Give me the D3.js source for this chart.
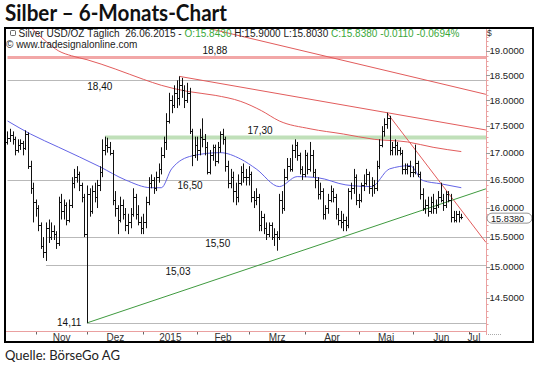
<!DOCTYPE html>
<html>
<head>
<meta charset="utf-8">
<script src="https://cdn.jsdelivr.net/npm/d3@7"></script>
<style>
  body { margin: 0; background: #fff; }
  svg { display: block; }
</style>
</head>
<body>
<svg id="chart" width="540" height="367"></svg>
<script>
// ---- data (silver, daily bars 17.10.2014 - 26.06.2015) ----
var firstDay = "2014-10-17";
var holidays = ["2014-12-25", "2015-01-01", "2015-04-03"];

var opens = [
  17.20,17.28,17.33,17.25,17.05,17.15,17.18,17.08,17.35,16.75,16.35,
  16.10,16.00,15.70,15.35,15.25,15.65,15.50,15.60,15.55,15.40,16.10,15.95,16.05,15.80,16.05,16.45,16.55,16.60,16.40,16.20,
  15.55,16.25,15.95,16.30,16.20,16.40,16.65,17.05,17.15,17.10,17.00,16.15,16.00,15.80,16.05,15.90,15.70,15.75,15.90,16.20,15.90,15.75,
  15.65,15.75,16.10,16.45,16.50,16.35,16.55,16.70,16.95,17.20,17.60,18.00,17.90,18.15,18.05,18.30,18.20,18.00,18.15,17.40,16.95,
  17.15,17.05,17.30,17.25,17.10,16.65,16.95,17.10,16.85,17.10,17.35,17.25,16.75,16.45,16.55,16.30,16.20,16.45,16.65,16.55,
  16.55,16.60,16.20,16.15,16.20,15.70,15.85,15.65,15.55,15.70,15.50,15.55,15.50,16.15,16.00,16.55,16.75,16.70,17.05,17.15,16.95,16.70,
  16.60,16.95,16.70,16.95,16.65,16.50,16.25,16.30,15.90,16.00,16.15,16.30,16.20,15.90,15.80,15.75,15.80,15.70,16.30,16.35,16.55,
  16.15,16.15,16.40,16.45,16.60,16.35,16.40,16.35,16.75,17.15,17.40,17.55,17.65,17.05,17.10,17.15,17.05,17.00,16.70,16.70,16.75,
  16.65,16.65,16.80,16.60,16.25,16.00,16.05,15.95,16.10,16.00,16.05,16.20,16.15,16.05,16.25,16.15,15.85,15.80,15.90,15.843
];
var highs = [
  17.40,17.45,17.40,17.30,17.25,17.25,17.22,17.42,17.38,16.85,16.45,
  16.15,16.05,15.75,15.50,15.75,15.80,15.75,15.70,15.60,16.20,16.25,16.15,16.10,16.15,16.55,16.70,16.75,16.65,16.45,16.25,
  16.40,16.35,16.40,16.45,16.50,16.75,17.25,17.30,17.28,17.20,17.05,16.30,16.05,16.20,16.15,16.00,15.90,16.00,16.35,16.25,16.05,15.85,
  15.90,16.20,16.55,16.60,16.55,16.65,16.80,17.10,17.30,17.75,18.15,18.10,18.30,18.40,18.48,18.45,18.30,18.35,18.25,17.45,17.30,
  17.30,17.45,17.65,17.35,17.20,17.05,17.15,17.15,17.20,17.40,17.45,17.30,16.85,16.70,16.65,16.45,16.60,16.75,16.80,16.70,
  16.75,16.65,16.30,16.35,16.25,15.95,15.90,15.75,15.75,15.75,15.65,15.60,16.25,16.30,16.70,16.90,16.90,17.15,17.25,17.20,17.00,16.75,
  17.05,17.00,17.20,17.05,16.70,16.55,16.45,16.35,16.05,16.25,16.40,16.35,16.25,16.00,15.95,15.90,15.85,16.35,16.45,16.70,16.60,
  16.25,16.45,16.60,16.70,16.65,16.55,16.50,16.85,17.25,17.50,17.65,17.76,17.70,17.20,17.25,17.20,17.10,17.05,16.80,16.80,16.85,
  16.75,17.15,16.85,16.65,16.35,16.15,16.20,16.20,16.25,16.15,16.30,16.45,16.25,16.30,16.30,16.25,15.95,15.95,15.95,15.90
];
var lows = [
  17.15,17.20,17.15,16.95,17.00,17.05,16.95,17.05,16.70,16.25,15.75,
  15.85,15.60,15.30,15.15,15.10,15.40,15.45,15.45,15.30,15.35,15.80,15.80,15.70,15.75,16.00,16.35,16.45,16.30,16.10,15.50,
  14.11,15.85,15.90,16.10,16.00,16.30,16.55,16.95,17.00,16.95,16.05,15.85,15.55,15.75,15.80,15.60,15.55,15.65,15.85,15.80,15.70,15.55,
  15.55,15.65,16.05,16.35,16.25,16.30,16.45,16.60,16.90,17.05,17.55,17.75,17.85,17.85,17.90,18.05,17.85,17.95,17.35,16.75,16.90,
  16.85,16.95,17.10,16.95,16.60,16.60,16.85,16.75,16.80,17.00,17.15,16.65,16.35,16.35,16.10,16.05,16.10,16.40,16.45,16.40,
  16.40,16.10,16.00,16.05,15.60,15.60,15.55,15.45,15.50,15.45,15.35,15.27,15.45,15.90,15.95,16.50,16.65,16.65,16.90,16.85,16.60,16.50,
  16.55,16.60,16.65,16.55,16.35,16.15,16.15,15.80,15.80,15.90,16.10,16.10,15.80,15.70,15.65,15.60,15.60,15.65,16.15,16.25,16.05,
  16.00,16.10,16.30,16.40,16.25,16.20,16.25,16.30,16.70,17.10,17.30,17.45,16.95,16.95,16.95,16.95,16.95,16.60,16.60,16.60,16.55,
  16.55,16.60,16.55,16.15,15.95,15.90,15.85,15.90,15.90,15.90,16.00,16.10,15.95,16.00,16.10,15.75,15.75,15.75,15.75,15.803
];
var closes = [
  17.28,17.33,17.25,17.05,17.15,17.18,17.08,17.35,16.75,16.35,16.10,
  16.00,15.70,15.35,15.25,15.65,15.50,15.60,15.55,15.40,16.10,15.95,16.05,15.80,16.05,16.45,16.55,16.60,16.40,16.20,15.55,
  16.25,15.95,16.30,16.20,16.40,16.65,17.05,17.15,17.10,17.00,16.15,16.00,15.80,16.05,15.90,15.70,15.75,15.90,16.20,15.90,15.75,15.65,
  15.75,16.10,16.45,16.50,16.35,16.55,16.70,16.95,17.20,17.60,18.00,17.90,18.15,18.05,18.30,18.20,18.00,18.15,17.40,16.95,17.15,
  17.05,17.30,17.25,17.10,16.65,16.95,17.10,16.85,17.10,17.35,17.25,16.75,16.45,16.55,16.30,16.20,16.45,16.65,16.55,16.55,
  16.60,16.20,16.15,16.20,15.70,15.85,15.65,15.55,15.70,15.50,15.55,15.50,16.15,16.00,16.55,16.75,16.70,17.05,17.15,16.95,16.70,16.60,
  16.95,16.70,16.95,16.65,16.50,16.25,16.30,15.90,16.00,16.15,16.30,16.20,15.90,15.80,15.75,15.80,15.70,16.30,16.35,16.55,16.15,
  16.15,16.40,16.45,16.60,16.35,16.40,16.35,16.75,17.15,17.40,17.55,17.65,17.05,17.10,17.15,17.05,17.00,16.70,16.70,16.75,16.65,
  16.65,16.80,16.60,16.25,16.00,16.05,15.95,16.10,16.00,16.05,16.20,16.15,16.05,16.25,16.15,15.85,15.80,15.90,15.85,15.838
];

// blue (short) and red (long) moving average at bar indices
var blueIdx  = [0, 9, 20, 36, 46, 56, 60, 64, 72, 83, 91, 97, 106, 113, 121, 132, 142, 149, 157, 162, 169, 177];
var blueVals = [17.60, 17.35, 17.10, 16.74, 16.50, 16.36, 16.36, 16.70, 16.94, 17.00, 16.88, 16.70, 16.38, 16.56, 16.54, 16.41, 16.38, 16.70, 16.76, 16.49, 16.43, 16.36];
var redIdx   = [4, 10, 15, 20, 25, 31, 42, 53, 60, 70, 81, 91, 99, 106, 118, 131, 143, 156, 166, 177];
var redVals  = [19.75, 19.45, 19.20, 19.00, 18.90, 18.82, 18.63, 18.42, 18.30, 18.18, 18.10, 17.98, 17.80, 17.60, 17.45, 17.35, 17.25, 17.20, 17.10, 17.02];

// horizontal levels
var levelVals    = [18.88, 18.40, 17.30, 16.50, 15.50, 15.03, 14.11];
var levelText    = ["18,88", "18,40", "17,30", "16,50", "15,50", "15,03", "14,11"];
var levelFrom    = [0, 0, 38, 0, 15, 15, 31];
var levelLabelAt = [80.9, 36, 98.5, 71.2, 82, 66.5, 28.8];

// trend lines [idx, value] pairs
var trendA = [[75, 19.52], [186.6, 18.12]];
var trendB = [[67, 18.48], [148, 17.76], [186.6, null]];
var trendC = [[148, 17.76], [186.6, 15.41]];
var trendGreen = [[31, 14.11], [186.6, 16.34]];

var yTicks = [19.0, 18.5, 18.0, 17.5, 17.0, 16.5, 16.0, 15.5, 15.0, 14.5];
var monthLabels = ["Nov", "Dez", "2015", "Feb", "Mrz", "Apr", "Mai", "Jun", "Jul"];
var lastClose = 15.838;

// ---- drawing ----
var svg = d3.select("#chart");
var plotL = 6, plotR = 486, plotT = 28, plotB = 331;
var lblFont = "'Liberation Sans', Arial, sans-serif";

var fmt = d3.timeFormat("%Y-%m-%d");
var days = d3.timeDay.range(d3.timeParse("%Y-%m-%d")(firstDay), new Date(2015, 6, 3))
  .filter(function(d) { return d.getDay() % 6 !== 0 && holidays.indexOf(fmt(d)) < 0; });

var x = d3.scaleLinear().domain([11, 180]).range([35.7, 469]);
var y = d3.scaleLog().domain([14.5, 19]).range([298, 51]);

svg.append("defs").append("clipPath").attr("id", "clip")
  .append("rect").attr("x", plotL).attr("y", plotT).attr("width", plotR - plotL).attr("height", plotB - plotT);

var g = svg.append("g").attr("clip-path", "url(#clip)");

// levels
levelVals.forEach(function(v, i) {
  var yy = Math.round(y(v)) + 0.5;
  var col = "#b9b9b9", w = 1;
  if (v === 18.88) { col = "#f2a7a7"; w = 3; }
  if (v === 17.30) { col = "#c0e0b9"; w = 4; }
  g.append("line")
    .attr("x1", Math.max(plotL, x(levelFrom[i]))).attr("x2", plotR)
    .attr("y1", yy).attr("y2", yy)
    .attr("stroke", col).attr("stroke-width", w);
});

// moving averages
var maLine = d3.line().curve(d3.curveMonotoneX)
  .x(function(d) { return x(d[0]); })
  .y(function(d) { return y(d[1]); });

g.append("path").datum(redIdx.map(function(d, i) { return [d, redVals[i]]; }))
  .attr("d", maLine).attr("fill", "none").attr("stroke", "#e25c5c").attr("stroke-width", 1);
g.append("path").datum(blueIdx.map(function(d, i) { return [d, blueVals[i]]; }))
  .attr("d", maLine).attr("fill", "none").attr("stroke", "#6464e6").attr("stroke-width", 1);

// trend lines
function seg(p, q, col) {
  g.append("line")
    .attr("x1", x(p[0])).attr("y1", y(p[1]))
    .attr("x2", x(q[0])).attr("y2", y(q[1]))
    .attr("stroke", col).attr("stroke-width", 1);
}
seg(trendA[0], trendA[1], "#e25c5c");
(function() {
  var x0 = x(trendB[0][0]), y0 = y(trendB[0][1]);
  var x1 = x(trendB[1][0]), y1 = y(trendB[1][1]);
  var x2 = x(trendB[2][0]);
  g.append("line").attr("x1", x0).attr("y1", y0).attr("x2", x2)
    .attr("y2", y0 + (y1 - y0) * (x2 - x0) / (x1 - x0))
    .attr("stroke", "#e25c5c").attr("stroke-width", 1);
})();
seg(trendC[0], trendC[1], "#e25c5c");
seg(trendGreen[0], trendGreen[1], "#3f9a3f");

// OHLC bars
var bars = g.append("g").attr("stroke", "#111").attr("stroke-width", 1);
closes.forEach(function(c, i) {
  var xx = Math.round(x(i)) + 0.5;
  bars.append("line").attr("x1", xx).attr("x2", xx)
    .attr("y1", y(highs[i])).attr("y2", y(lows[i]));
  bars.append("line").attr("x1", xx - 1.5).attr("x2", xx)
    .attr("y1", Math.round(y(opens[i])) + 0.5).attr("y2", Math.round(y(opens[i])) + 0.5);
  bars.append("line").attr("x1", xx).attr("x2", xx + 1.5)
    .attr("y1", Math.round(y(c)) + 0.5).attr("y2", Math.round(y(c)) + 0.5);
});

// level labels
levelVals.forEach(function(v, i) {
  var above = (v === 18.88 || v === 17.30);
  var t = svg.append("text")
    .attr("x", x(levelLabelAt[i]))
    .attr("y", above ? y(v) - 2.5 : y(v) + 9.5)
    .attr("text-anchor", "middle")
    .attr("font-family", lblFont).attr("font-size", 10).attr("fill", "#111")
    .text(levelText[i]);
  if (v === 14.11) t.attr("y", y(v) + 3).attr("text-anchor", "end");
});

// right axis
svg.append("line").attr("x1", plotR + 0.5).attr("x2", plotR + 0.5).attr("y1", plotT).attr("y2", plotB + 4)
  .attr("stroke", "#eaa0a0");
d3.range(14.1, 19.45, 0.1).forEach(function(v) {
  svg.append("line").attr("x1", plotR).attr("x2", plotR + 2.5)
    .attr("y1", Math.round(y(v)) + 0.5).attr("y2", Math.round(y(v)) + 0.5).attr("stroke", "#eaa0a0");
});
yTicks.forEach(function(v) {
  svg.append("line").attr("x1", plotR).attr("x2", plotR + 4)
    .attr("y1", Math.round(y(v)) + 0.5).attr("y2", Math.round(y(v)) + 0.5).attr("stroke", "#999");
  svg.append("text").attr("x", plotR + 3.5).attr("y", y(v) + 3.3)
    .attr("font-family", lblFont).attr("font-size", 9.6).attr("fill", "#222")
    .text(v.toFixed(4));
});
svg.append("rect").attr("x", plotR + 1).attr("y", y(lastClose) - 4.2).attr("width", 45).attr("height", 10)
  .attr("rx", 5).attr("fill", "#fff").attr("stroke", "#777").attr("stroke-width", 0.8);
svg.append("text").attr("x", plotR + 5).attr("y", y(lastClose) + 4.3)
  .attr("font-family", lblFont).attr("font-size", 9.2).attr("fill", "#222")
  .text(lastClose.toFixed(4));
svg.append("text").attr("x", plotR + 1).attr("y", 36)
  .attr("font-family", lblFont).attr("font-size", 8.5).attr("fill", "#333").text("$");

// bottom axis
svg.append("line").attr("x1", plotL).attr("x2", plotR).attr("y1", plotB + 0.5).attr("y2", plotB + 0.5)
  .attr("stroke", "#eaa0a0");
var monthStarts = d3.range(0, 9).map(function(m) {
  var start = new Date(2014, 10 + m, 1);
  for (var i = 0; i < days.length; i++) if (days[i] >= start) return i;
  return days.length;
});
monthStarts.forEach(function(idx, m) {
  var tx = Math.round(x(idx)) + 0.5;
  svg.append("line").attr("x1", tx).attr("x2", tx).attr("y1", plotB + 1).attr("y2", plotB + 3.5)
    .attr("stroke", "#666");
  var next = m < 8 ? x(monthStarts[m + 1]) : tx + 10;
  var cx = Math.min((tx + next) / 2, plotR - 12);
  svg.append("text").attr("x", cx).attr("y", plotB + 10)
    .attr("text-anchor", "middle")
    .attr("font-family", lblFont).attr("font-size", 10).attr("fill", "#333")
    .text(monthLabels[m]);
});
svg.append("line").attr("x1", plotR + 2).attr("x2", plotR + 16).attr("y1", plotB + 3.5).attr("y2", plotB + 3.5)
  .attr("stroke", "#aaa").attr("stroke-dasharray", "1,1");

// header texts
var hdr = svg.append("text").attr("x", 18.5).attr("y", 37)
  .attr("font-family", lblFont).attr("font-size", 10).attr("fill", "#222")
  .attr("textLength", 441).attr("lengthAdjust", "spacing")
  .style("white-space", "pre");
hdr.append("tspan").text("Silver USD/OZ Täglich  26.06.2015 - ");
hdr.append("tspan").attr("fill", "#3aa83a").text("O:15.8430");
hdr.append("tspan").text(" H:15.9000 L:15.8030 ");
hdr.append("tspan").attr("fill", "#3aa83a").text("C:15.8380 -0.0110 -0.0694%");
svg.append("rect").attr("x", 10.5).attr("y", 30.5).attr("width", 5).attr("height", 5)
  .attr("rx", 1).attr("fill", "none").attr("stroke", "#444").attr("stroke-width", 0.8);
svg.append("text").attr("x", 6).attr("y", 47.5)
  .attr("font-family", lblFont).attr("font-size", 10).attr("fill", "#222")
  .text("© www.tradesignalonline.com");

// frame
svg.append("rect").attr("x", 5).attr("y", 28).attr("width", 528).attr("height", 314)
  .attr("fill", "none").attr("stroke", "#000").attr("stroke-width", 2);

// title and source
svg.append("text").attr("x", 5).attr("y", 21)
  .attr("font-family", "Lato, 'Open Sans', sans-serif").attr("font-weight", "bold")
  .attr("font-size", 22).attr("fill", "#111")
  .attr("textLength", 222).attr("lengthAdjust", "spacingAndGlyphs")
  .text("Silber – 6-Monats-Chart");
svg.append("text").attr("x", 5).attr("y", 360)
  .attr("font-family", "Lato, 'Open Sans', sans-serif")
  .attr("font-size", 13.5).attr("fill", "#222")
  .attr("textLength", 115).attr("lengthAdjust", "spacingAndGlyphs")
  .text("Quelle: BörseGo AG");
</script>
</body>
</html>
